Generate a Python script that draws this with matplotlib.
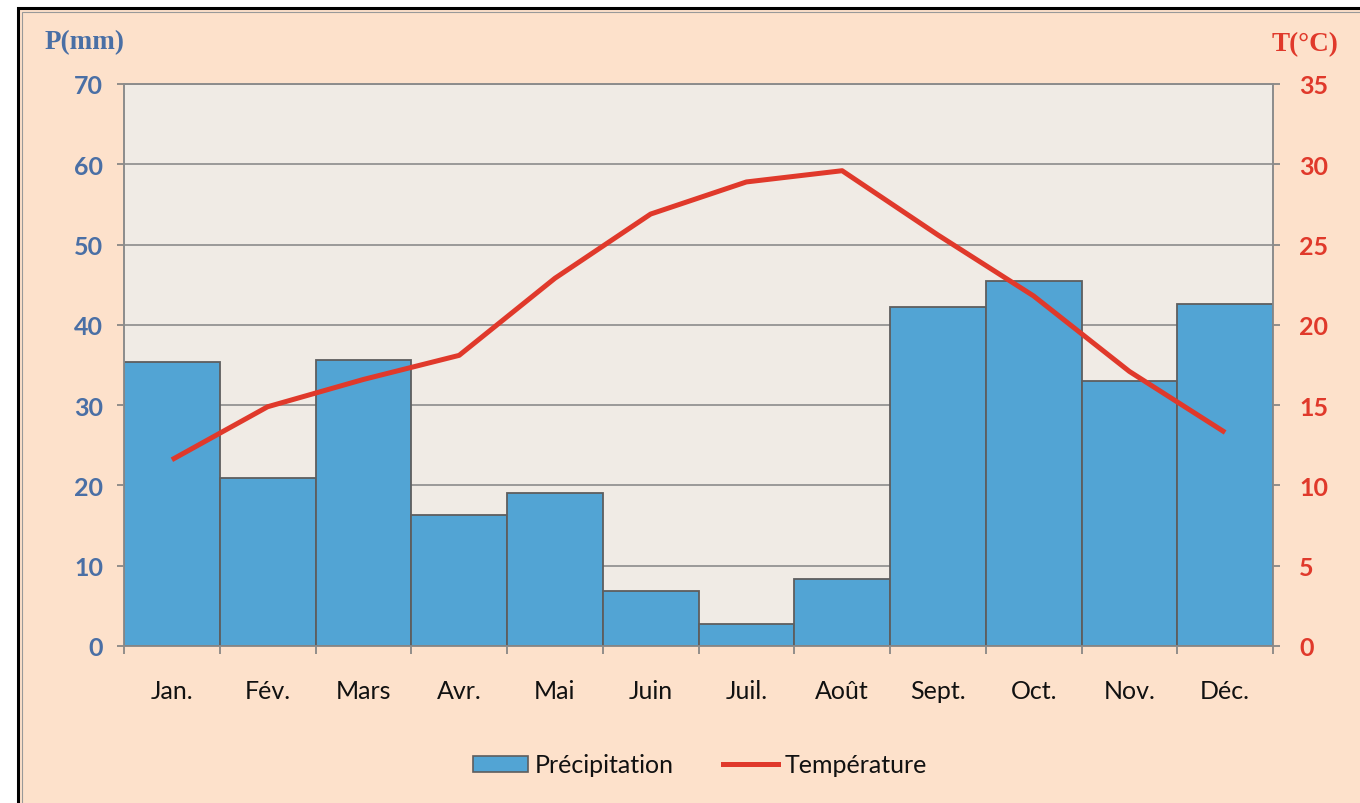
import matplotlib
matplotlib.use("Agg")
import matplotlib.pyplot as plt
from matplotlib.patches import Rectangle
from matplotlib.lines import Line2D
from matplotlib.patches import Patch
import numpy as np

months = ["Jan.", "Fév.", "Mars", "Avr.", "Mai", "Juin", "Juil.", "Août", "Sept.", "Oct.", "Nov.", "Déc."]
precip = [35.4, 20.9, 35.6, 16.3, 19.0, 6.8, 2.7, 8.4, 42.2, 45.5, 33.0, 42.6]
temp = [11.6, 14.9, 16.6, 18.1, 22.9, 26.9, 28.9, 29.6, 25.6, 21.8, 17.1, 13.3]
p_ticks = [0, 10, 20, 30, 40, 50, 60, 70]
t_ticks = [0, 5, 10, 15, 20, 25, 30, 35]

W, H = 1360, 804
FS = 18
fig = plt.figure(figsize=(W / 100, H / 100), dpi=100, facecolor="white")

# outer frame
fig.patches.append(Rectangle((18 / W, -0.05), 1.2, 1 - 9 / H + 0.05, transform=fig.transFigure,
                             facecolor="#FDE1CB", edgecolor="black", lw=2.2, zorder=-10))
fig.patches.append(Rectangle((22 / W, -0.05), 1.2, 1 - 13 / H + 0.05, transform=fig.transFigure,
                             facecolor="none", edgecolor="#999999", lw=0.8, zorder=-9))

ax = fig.add_axes([124 / W, 157 / H, 1149 / W, 562 / H])
ax.set_facecolor("#F0EBE5")
x = np.arange(len(months)) + 0.5
ax.bar(x, precip, width=1.0, color="#52A4D4", edgecolor="#5E5E5E", linewidth=1.3, zorder=3)
ax.set_xlim(0, 12)
ax.set_ylim(0, 70)
ax.set_yticks(p_ticks)
ax.yaxis.grid(True, color="#8C8C8C", lw=1.2, zorder=0)
ax.set_axisbelow(True)
ax.set_xticks(np.arange(0, 13))
ax.set_xticklabels([])
ax.set_xticks(x, minor=True)
ax.set_xticklabels(months, minor=True, fontsize=FS, family="Lato", color="#111111")
ax.tick_params(axis="x", which="major", length=6, width=1.2, color="#7F7F7F", direction="out")
ax.tick_params(axis="x", which="minor", length=0, pad=24)
ax.tick_params(axis="y", length=5, width=1.2, color="#7F7F7F", pad=10, labelsize=FS, labelcolor="#4A6FA5")
for lab in ax.get_yticklabels():
    lab.set_fontweight("bold")
    lab.set_family("Lato")
for s in ["left", "bottom", "right", "top"]:
    ax.spines[s].set_color("#8C8C8C")
    ax.spines[s].set_linewidth(1.2)

ax2 = ax.twinx()
ax2.plot(x, temp, color="#E0392B", lw=3.6, zorder=5, solid_capstyle="butt")
ax2.set_ylim(0, 35)
ax2.set_yticks(t_ticks)
ax2.tick_params(axis="y", length=5, width=1.2, color="#7F7F7F", pad=14, labelsize=FS, labelcolor="#E0392B")
for lab in ax2.get_yticklabels():
    lab.set_fontweight("bold")
    lab.set_family("Lato")
for s in ["left", "bottom", "right", "top"]:
    ax2.spines[s].set_color("#8C8C8C")
    ax2.spines[s].set_linewidth(1.2)

fig.text(85 / W, 1 - 43 / H, "P(mm)", ha="center", va="center", family="Liberation Serif",
         fontweight="bold", fontsize=19.5, color="#4A6FA5")
fig.text(1305 / W, 1 - 45 / H, "T(°C)", ha="center", va="center", family="Liberation Serif",
         fontweight="bold", fontsize=19.5, color="#E0392B")

handles = [Patch(facecolor="#52A4D4", edgecolor="#5E5E5E", lw=1.2, label="Précipitation"),
           Line2D([0], [0], color="#E0392B", lw=3.6, label="Température")]
leg = fig.legend(handles=handles, loc="center", bbox_to_anchor=(700 / W, 1 - 766 / H), ncol=2,
                 frameon=False, prop={"family": "Lato", "size": FS}, handlelength=2.2,
                 handleheight=0.6, handletextpad=0.25, columnspacing=2.0)
for t in leg.get_texts():
    t.set_color("#111111")

fig.savefig("out.png", dpi=100, facecolor=fig.get_facecolor())
